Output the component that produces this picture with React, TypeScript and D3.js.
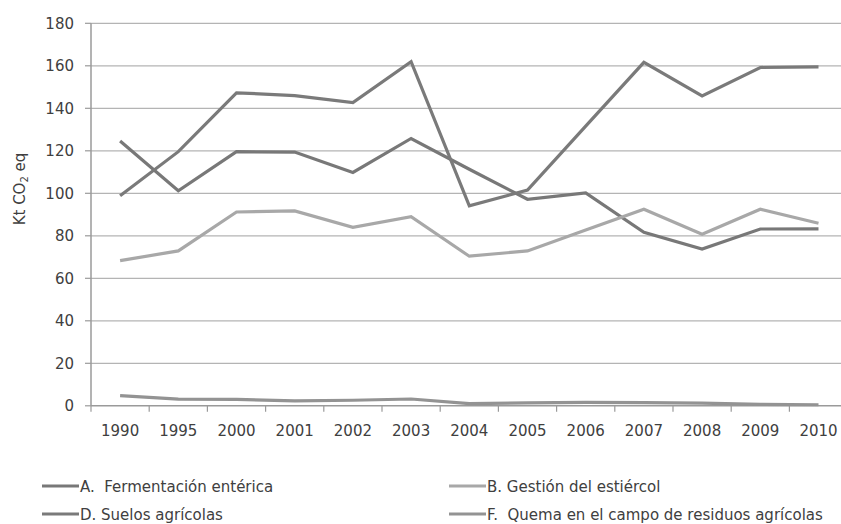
import React from "react";
import * as d3 from "d3";

const years = ["1990","1995","2000","2001","2002","2003","2004","2005","2006","2007","2008","2009","2010"];
const fermentacion = [124.6, 101.2, 119.6, 119.4, 109.8, 125.8, 111.3, 97.2, 100.2, 81.6, 73.8, 83.2, 83.3];
const estiercol = [68.3, 72.9, 91.2, 91.7, 84.0, 89.0, 70.4, 72.9, 82.7, 92.5, 80.7, 92.5, 85.9];
const suelos = [98.8, 119.6, 147.3, 146.0, 142.7, 161.9, 94.1, 101.5, 131.6, 161.6, 145.8, 159.2, 159.5];
const quema = [4.8, 3.1, 3.0, 2.3, 2.6, 3.2, 1.0, 1.4, 1.6, 1.5, 1.3, 0.7, 0.5];
const yTicks = [0, 20, 40, 60, 80, 100, 120, 140, 160, 180];

const seriesNames = ["A.  Fermentación entérica", "B. Gestión del estiércol", "D. Suelos agrícolas", "F.  Quema en el campo de residuos agrícolas"];
const seriesValues = [fermentacion, estiercol, suelos, quema];
const seriesColors = ["#787878", "#a8a8a8", "#7a7a7a", "#939393"];

const W = 841, H = 524;
const FONT = "'DejaVu Sans', Verdana, sans-serif";
const FS = 15;

export default function App() {
  const left = 91, bandW = 58.2;
  const x = d3.scaleBand<string>().domain(years).range([left, left + bandW * years.length]).paddingInner(0).paddingOuter(0);
  const y = d3.scaleLinear().domain([0, 180]).range([405.8, 23.3]);
  const cx = (yr: string) => (x(yr) as number) + x.bandwidth() / 2;
  const line = d3.line<number>().x((_, i) => cx(years[i])).y((v) => y(v));

  const legendPos = [
    { x: 42, y: 486 },
    { x: 449, y: 486 },
    { x: 42, y: 514 },
    { x: 449, y: 514 },
  ];

  return (
    <svg width={W} height={H} style={{ position: "absolute", left: 0, top: 0, display: "block" }} fontFamily={FONT}>
      <rect width={W} height={H} fill="#ffffff" />
      {yTicks.map((t) => (
        <g key={t}>
          {t > 0 && <line x1={left} x2={W} y1={y(t)} y2={y(t)} stroke="#b4b4b4" strokeWidth={1.2} />}
          <line x1={left - 6} x2={left} y1={y(t)} y2={y(t)} stroke="#9a9a9a" strokeWidth={1.2} />
          <text x={74} y={y(t) + 5.5} textAnchor="end" fontSize={FS} fill="#404040">{t}</text>
        </g>
      ))}
      <line x1={left} x2={left} y1={y(180)} y2={y(0)} stroke="#9a9a9a" strokeWidth={1.5} />
      <line x1={left} x2={W} y1={y(0)} y2={y(0)} stroke="#9a9a9a" strokeWidth={1.5} />
      {years.map((yr, i) => (
        <g key={yr}>
          <line x1={(x(yr) as number) + bandW} x2={(x(yr) as number) + bandW} y1={y(0)} y2={y(0) + 6} stroke="#9a9a9a" strokeWidth={1.2} />
          {i === 0 && <line x1={left} x2={left} y1={y(0)} y2={y(0) + 6} stroke="#9a9a9a" strokeWidth={1.2} />}
          <text x={cx(yr)} y={435.5} textAnchor="middle" fontSize={FS} fill="#404040">{yr}</text>
        </g>
      ))}
      {seriesValues.map((vals, i) => (
        <path key={i} d={line(vals) || ""} fill="none" stroke={seriesColors[i]} strokeWidth={3.2} strokeLinejoin="miter" />
      ))}
      <text transform={`translate(25,189) rotate(-90)`} textAnchor="middle" fontSize={FS} fill="#404040">
        Kt CO<tspan fontSize={10} dy={3}>2</tspan><tspan dy={-3}> eq</tspan>
      </text>
      {seriesNames.map((name, i) => (
        <g key={name}>
          <line x1={legendPos[i].x} x2={legendPos[i].x + 37} y1={legendPos[i].y} y2={legendPos[i].y} stroke={seriesColors[i]} strokeWidth={3.2} />
          <text x={legendPos[i].x + 38} y={legendPos[i].y + 5.5} fontSize={FS} fill="#404040" style={{ whiteSpace: "pre" }}>{name}</text>
        </g>
      ))}
    </svg>
  );
}
